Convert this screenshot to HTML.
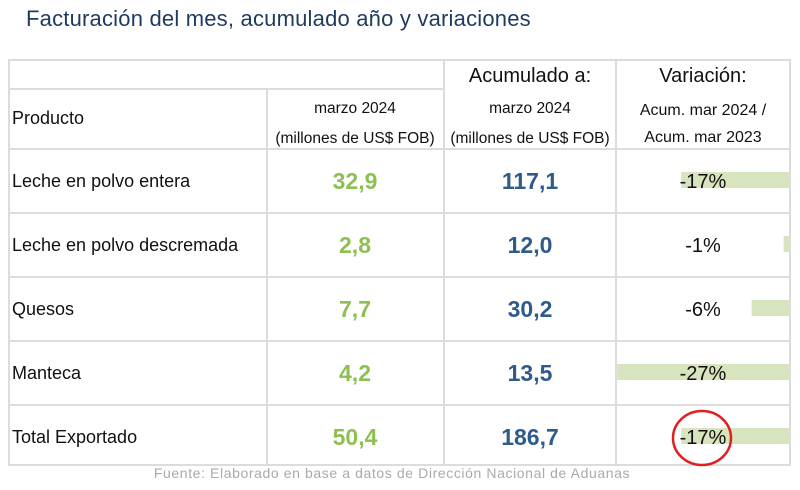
<!DOCTYPE html>
<html><head><meta charset="utf-8"><style>
body{margin:0;width:800px;height:490px;background:#fff;font-family:"Liberation Sans",sans-serif;position:relative;overflow:hidden}
.a{position:absolute}
.t{position:absolute;white-space:nowrap;color:#111}
.c{text-align:center;transform:translateX(-50%)}
.hl{position:absolute;height:2px;background:#dcdcdc}
.vl{position:absolute;width:2px;background:#dcdcdc}
</style></head><body>
<div class="t" style="left:26px;top:6px;font-size:22px;color:#1f3a5f;letter-spacing:0.2px">Facturación del mes, acumulado año y variaciones</div>
<div id="tbl">
<div class="a" style="left:8px;top:59px;width:783px;height:407px;border:2px solid #dcdcdc;box-sizing:border-box"></div>
<div class="hl" style="left:8px;top:88px;width:436px"></div>
<div class="hl" style="left:8px;top:148px;width:783px"></div>
<div class="hl" style="left:8px;top:212px;width:783px"></div>
<div class="hl" style="left:8px;top:276px;width:783px"></div>
<div class="hl" style="left:8px;top:340px;width:783px"></div>
<div class="hl" style="left:8px;top:404px;width:783px"></div>
<div class="vl" style="left:266px;top:88px;height:378px"></div>
<div class="vl" style="left:443px;top:59px;height:407px"></div>
<div class="vl" style="left:615px;top:59px;height:407px"></div>
<div class="t c" style="left:530px;top:65px;font-size:20px">Acumulado a:</div>
<div class="t c" style="left:703px;top:65px;font-size:20px">Variación:</div>
<div class="t" style="left:12px;top:108px;font-size:18px">Producto</div>
<div class="t c" style="left:355px;top:94px;font-size:15.5px;line-height:30px;text-align:center">marzo 2024<br>(millones de US$ FOB)</div>
<div class="t c" style="left:530px;top:94px;font-size:15.5px;line-height:30px;text-align:center">marzo 2024<br>(millones de US$ FOB)</div>
<div class="t c" style="left:703px;top:97px;font-size:16px;line-height:27px;text-align:center">Acum. mar 2024 /<br>Acum. mar 2023</div>
</div>
<svg class="a" style="left:0;top:0" width="800" height="490" id="svg"></svg>
<div class="t c" style="left:392px;top:465px;font-size:14px;letter-spacing:0.6px;color:#aaa">Fuente: Elaborado en base a datos de Dirección Nacional de Aduanas</div>
<script>
const products=["Leche en polvo entera","Leche en polvo descremada","Quesos","Manteca","Total Exportado"];
const monthVals=["32,9","2,8","7,7","4,2","50,4"];
const accumVals=["117,1","12,0","30,2","13,5","186,7"];
const variation=[-17,-1,-6,-27,-17];
const rowTop=148,rowH=64,barRight=790,pxPerPct=6.4;
const svg=document.getElementById('svg');
const NS='http://www.w3.org/2000/svg';
function rowY(i){return rowTop+i*rowH;}
function barW(v){return Math.abs(v)*pxPerPct;}
products.forEach((p,i)=>{
  const y=rowY(i);
  const r=document.createElementNS(NS,'rect');
  r.setAttribute('x',barRight-barW(variation[i]));r.setAttribute('y',y+24);
  r.setAttribute('width',barW(variation[i]));r.setAttribute('height',16);r.setAttribute('fill','#d7e4bd');
  
  
  svg.appendChild(r);
  const mk=(txt,x,cls,style)=>{const d=document.createElement('div');d.className='t '+cls;d.style.cssText='left:'+x+'px;top:'+(y+23)+'px;'+style;d.textContent=txt;document.body.appendChild(d);return d;};
  let d=mk(p,12,'','font-size:18px');
  
  
  d=mk(monthVals[i],355,'c','font-size:23px;font-weight:bold;color:#8cc152;top:'+(y+20)+'px');
  
  
  d=mk(accumVals[i],530,'c','font-size:23px;font-weight:bold;color:#2f5a8c;top:'+(y+20)+'px');
  
  
  d=mk(variation[i]+'%',703,'c','font-size:20px;top:'+(y+23)+'px');
  
  
});
const e=document.createElementNS(NS,'ellipse');
e.setAttribute('cx',702);e.setAttribute('cy',rowY(4)+34);e.setAttribute('rx',29);e.setAttribute('ry',27);
e.setAttribute('fill','none');e.setAttribute('stroke','#e02020');e.setAttribute('stroke-width',2.5);


svg.appendChild(e);
</script>
</body></html>
